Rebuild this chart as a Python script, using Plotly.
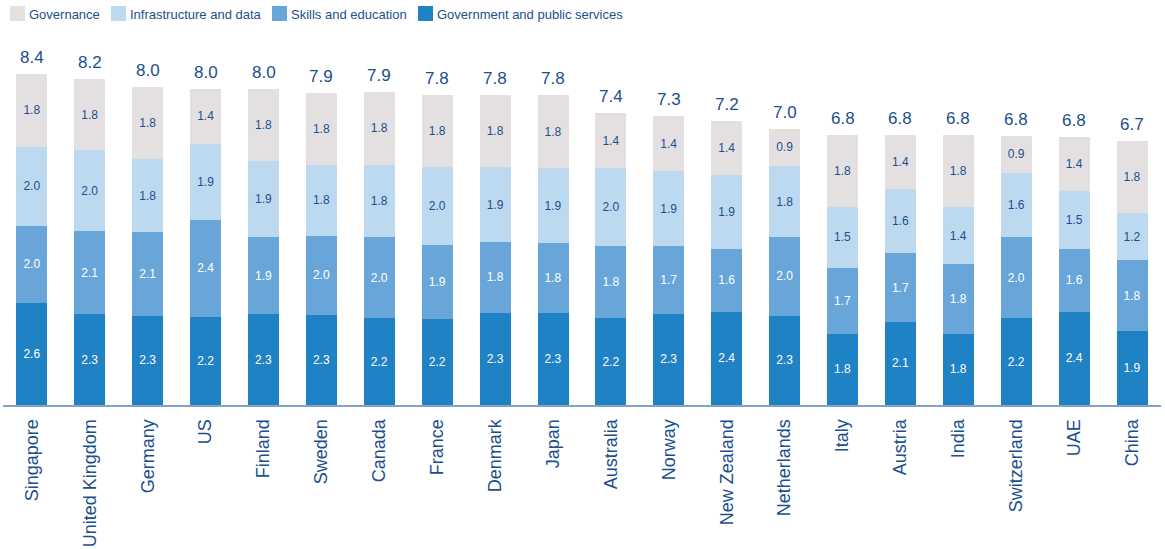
import plotly.graph_objects as go

countries = ["Singapore", "United Kingdom", "Germany", "US", "Finland", "Sweden", "Canada",
             "France", "Denmark", "Japan", "Australia", "Norway", "New Zealand", "Netherlands",
             "Italy", "Austria", "India", "Switzerland", "UAE", "China"]

gov_public = [2.57, 2.29, 2.26, 2.23, 2.29, 2.28, 2.19, 2.16, 2.33, 2.33,
              2.19, 2.31, 2.36, 2.26, 1.80, 2.10, 1.80, 2.19, 2.36, 1.86]
skills = [1.96, 2.11, 2.11, 2.44, 1.94, 1.99, 2.04, 1.89, 1.79, 1.76,
          1.83, 1.70, 1.58, 1.97, 1.67, 1.73, 1.76, 2.04, 1.58, 1.80]
infra = [1.99, 2.03, 1.83, 1.93, 1.93, 1.79, 1.84, 1.96, 1.88, 1.89,
         1.96, 1.90, 1.87, 1.81, 1.53, 1.63, 1.44, 1.64, 1.47, 1.18]
governance = [1.84, 1.81, 1.82, 1.39, 1.81, 1.83, 1.83, 1.82, 1.82, 1.84,
              1.39, 1.38, 1.36, 0.93, 1.83, 1.37, 1.82, 0.93, 1.36, 1.82]

series = [
    ("Government and public services", gov_public, "#1f82c4", "white"),
    ("Skills and education", skills, "#68a6d9", "white"),
    ("Infrastructure and data", infra, "#bdd9ef", "#1b4f8e"),
    ("Governance", governance, "#e4e0e2", "#1b4f8e"),
]

TXT = "#1b4f8e"
FONT = "Liberation Sans, Arial, sans-serif"

fig = go.Figure()
for name, vals, color, tcol in series:
    fig.add_trace(go.Bar(
        x=countries, y=vals, name=name, marker=dict(color=color, line=dict(width=0)),
        text=[f"{v:.1f}" for v in vals], textposition="inside", insidetextanchor="middle",
        textangle=0, constraintext="none",
        textfont=dict(color=tcol, size=12, family=FONT), showlegend=False,
        hoverinfo="skip",
    ))

totals = [round(a + b + c + d, 2) for a, b, c, d in zip(gov_public, skills, infra, governance)]
for c, t in zip(countries, totals):
    fig.add_annotation(x=c, y=t, text=f"{t:.1f}", showarrow=False, yanchor="bottom",
                       yshift=5, font=dict(size=17, color=TXT, family=FONT))

# manual legend (pixel positions converted to paper coords)
L, R, T, B = 3, 4, 45, 144
W, H = 1165, 549
pw, ph = W - L - R, H - T - B
def px(x):
    return (x - L) / pw
def py(y):
    return (H - B - y) / ph

legend_items = [("Governance", "#e4e0e2", 10), ("Infrastructure and data", "#bdd9ef", 111),
                ("Skills and education", "#68a6d9", 272), ("Government and public services", "#1f82c4", 418)]
for label, color, x0 in legend_items:
    fig.add_shape(type="rect", xref="paper", yref="paper", x0=px(x0), x1=px(x0 + 15),
                  y0=py(21), y1=py(6), fillcolor=color, line=dict(width=0))
    fig.add_annotation(xref="paper", yref="paper", x=px(x0 + 17), y=py(14), text=label,
                       showarrow=False, xanchor="left", yanchor="middle",
                       font=dict(size=13, color=TXT, family=FONT))

fig.update_layout(
    width=W, height=H, barmode="stack", bargap=0.465,
    margin=dict(l=L, r=R, t=T, b=B),
    plot_bgcolor="white", paper_bgcolor="white",
    font=dict(family=FONT, color=TXT),
    xaxis=dict(showline=True, linecolor="#86a3c7", linewidth=2, tickangle=-90,
               tickfont=dict(size=18, color=TXT, family=FONT), ticks="", showgrid=False,
               ticklabelstandoff=5, range=[-0.5, 19.5]),
    yaxis=dict(visible=False, range=[0, (H - B - T) / 39.6], showgrid=False),
)

fig.write_html("out.html")
